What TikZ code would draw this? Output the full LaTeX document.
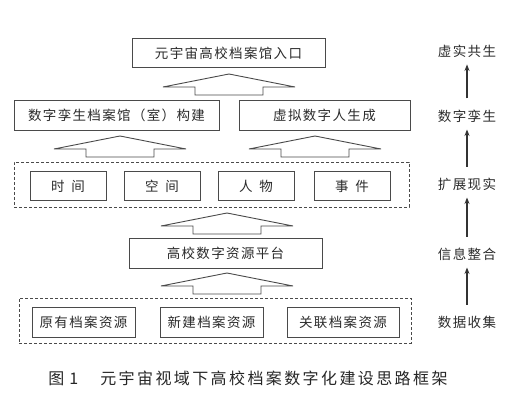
\documentclass[tikz,border=0pt]{standalone}
\usepackage{fontspec}
\usepackage{tikz}
\usetikzlibrary{arrows.meta}
\newfontfamily\cjk[LetterSpace=10]{Noto Sans CJK SC}
\newfontfamily\cjkcap[LetterSpace=15]{Noto Sans CJK SC}
\definecolor{linegray}{HTML}{4A4A4A}
\definecolor{inkgray}{HTML}{2B2B2B}

\begin{document}
\begin{tikzpicture}[x=1pt,y=1pt,node distance=94pt,>={Stealth[length=6.5pt,width=5pt]},
  font=\cjk\fontsize{13.5}{16}\selectfont,text=inkgray,
  box/.style={draw=linegray,line width=1pt,inner sep=0pt,minimum height=29.5pt},
  group/.style={draw=linegray,line width=0.9pt,dash pattern=on 3pt off 2pt,inner sep=0pt,minimum height=45pt},
  stage/.style={inner sep=1pt},
  uparrow/.pic={\draw[linegray,line width=0.9pt] (0,0) -- (66,-13) -- (34,-13) -- (34,-21)
    -- (-34,-21) -- (-34,-13) -- (-66,-13) -- cycle;}]
  \useasboundingbox (0,0) rectangle (530,413);
  % layers
  \node[box,minimum width=193pt] (entry) at (228.5,360) {元宇宙高校档案馆入口};
  \node[box,minimum width=205pt] (twin) at (116.5,297.5) {数字孪生档案馆（室）构建};
  \node[box,minimum width=171pt] (human) at (324.5,297.5) {虚拟数字人生成};
  \node[group,minimum width=395pt] (dims) at (211.5,228.5) {};
  \node[box,minimum width=76pt] (time) at (68,227) {时\hspace{0.5em}间};
  \node[box,minimum width=76pt,right of=time] (space) {空\hspace{0.5em}间};
  \node[box,minimum width=76pt,right of=space] (figure) {人\hspace{0.5em}物};
  \node[box,minimum width=76pt,right of=figure,xshift=2pt] (event) {事\hspace{0.5em}件};
  \node[box,minimum width=193pt] (platform) at (225.5,159.5) {高校数字资源平台};
  \node[group,minimum width=392pt] (sources) at (215,92.5) {};
  \node[box,minimum width=103pt] (orig) at (83.5,90.5) {原有档案资源};
  \node[box,minimum width=103pt,right of=orig,node distance=128pt] (new) {新建档案资源};
  \node[box,minimum width=112pt,right of=new,node distance=131.5pt] (linked) {关联档案资源};
  % broad arrows between layers
  \pic at (229,339) {uparrow};
  \pic at (120,277) {uparrow};
  \pic at (315,277) {uparrow};
  \pic at (227,200) {uparrow};
  \pic at (227,140) {uparrow};
  % stages
  \node[stage] (coexist) at (467,362) {虚实共生};
  \node[stage] (twinning) at (467,297) {数字孪生};
  \node[stage] (extend) at (467,229) {扩展现实};
  \node[stage] (integrate) at (467,159) {信息整合};
  \node[stage] (collect) at (467,91) {数据收集};
  \foreach \a/\b in {collect/integrate,integrate/extend,extend/twinning,twinning/coexist}
    \draw[->,black!80,line width=1.1pt,shorten <=10pt,shorten >=6pt] (\a) -- (\b);
  \node[text=black!85] (caption) at (248,35)
    {\cjkcap\fontsize{16}{18}\selectfont 图\hspace{5pt}1\hspace{22pt}元宇宙视域下高校档案数字化建设思路框架};
\end{tikzpicture}
\end{document}
